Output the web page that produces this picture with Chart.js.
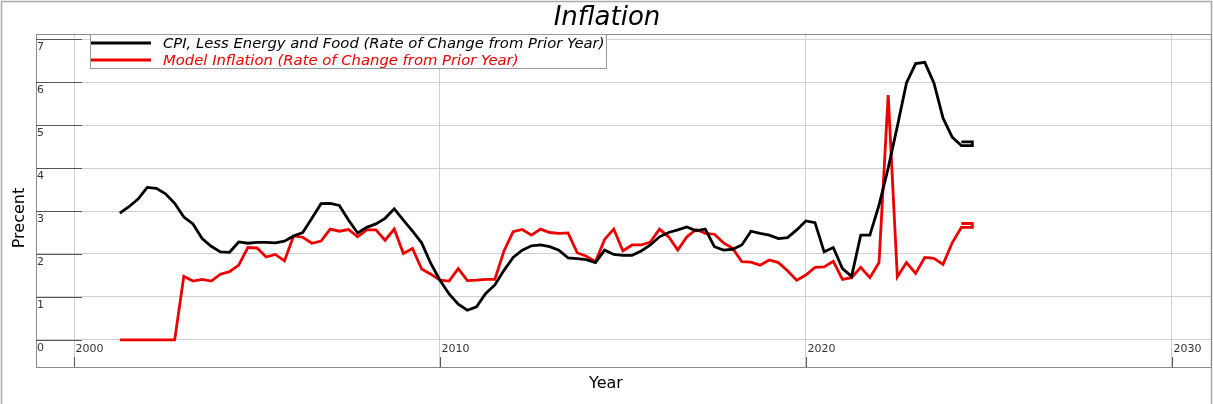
<!DOCTYPE html>
<html><head><meta charset="utf-8">
<script src="https://cdn.jsdelivr.net/npm/chart.js@4"></script>
<style>html,body{margin:0;padding:0;background:#fff}#wrap{width:1213px;height:404px;position:relative}</style>
</head><body><div id="wrap"><canvas id="c"></canvas></div>
<script>
// Quarterly dates (decimal years)
const quarters = [
 2001.25,2001.5,2001.75,2002.0,2002.25,2002.5,2002.75,2003.0,2003.25,2003.5,2003.75,
 2004.0,2004.25,2004.5,2004.75,2005.0,2005.25,2005.5,2005.75,2006.0,2006.25,2006.5,2006.75,
 2007.0,2007.25,2007.5,2007.75,2008.0,2008.25,2008.5,2008.75,2009.0,2009.25,2009.5,2009.75,
 2010.0,2010.25,2010.5,2010.75,2011.0,2011.25,2011.5,2011.75,2012.0,2012.25,2012.5,2012.75,
 2013.0,2013.25,2013.5,2013.75,2014.0,2014.25,2014.5,2014.75,2015.0,2015.25,2015.5,2015.75,
 2016.0,2016.25,2016.5,2016.75,2017.0,2017.25,2017.5,2017.75,2018.0,2018.25,2018.5,2018.75,
 2019.0,2019.25,2019.5,2019.75,2020.0,2020.25,2020.5,2020.75,2021.0,2021.25,2021.5,2021.75,
 2022.0,2022.25,2022.5,2022.75,2023.0,2023.25,2023.5,2023.75,2024.0,2024.25
];
const cpiCore = [
 2.95,3.10,3.28,3.55,3.53,3.40,3.18,2.86,2.70,2.36,2.18,
 2.05,2.04,2.28,2.25,2.27,2.27,2.26,2.30,2.42,2.50,2.83,3.17,
 3.18,3.13,2.79,2.49,2.62,2.70,2.83,3.05,2.79,2.53,2.26,1.78,
 1.39,1.07,0.83,0.69,0.77,1.08,1.28,1.62,1.92,2.09,2.19,2.21,
 2.17,2.09,1.91,1.89,1.87,1.80,2.09,1.99,1.97,1.97,2.07,2.21,
 2.40,2.50,2.56,2.63,2.54,2.58,2.17,2.09,2.11,2.21,2.53,2.48,
 2.44,2.36,2.38,2.56,2.77,2.73,2.05,2.15,1.66,1.48,2.44,2.44,
 3.14,4.00,4.97,5.98,6.43,6.46,5.98,5.16,4.72,4.52
];
const modelInfl = [
 0,0,0,0,0,0,0,1.48,1.37,1.41,1.37,
 1.53,1.59,1.74,2.15,2.14,1.93,1.99,1.84,2.42,2.39,2.25,2.30,
 2.58,2.53,2.57,2.40,2.56,2.56,2.32,2.58,2.01,2.13,1.65,1.53,
 1.39,1.37,1.66,1.38,1.39,1.41,1.41,2.07,2.52,2.57,2.44,2.58,
 2.50,2.48,2.49,2.03,1.95,1.82,2.34,2.58,2.07,2.21,2.21,2.28,
 2.58,2.40,2.09,2.40,2.57,2.48,2.46,2.26,2.13,1.82,1.81,1.74,
 1.86,1.80,1.61,1.39,1.51,1.69,1.70,1.83,1.41,1.45,1.69,1.45,
 1.80,5.70,1.47,1.80,1.55,1.92,1.90,1.76,2.26,2.62
];
// small closing loop drawn at the end of each series
const endX = [2024.55, 2024.55, 2024.25];
const cpiEnd = [4.52, 4.61, 4.61];
const modelEnd = [2.62, 2.71, 2.71];

const seriesNames = ["CPI, Less Energy and Food (Rate of Change from Prior Year)",
                     "Model Inflation (Rate of Change from Prior Year)"];
const seriesColors = ["#000000", "#ec0000"];
const xTicks = [2000, 2010, 2020, 2030];
const yTicks = [0, 1, 2, 3, 4, 5, 6, 7];
const titleText = "Inflation";
const xTitle = "Year";
const yTitle = "Precent";

function pts(vals, tail) {
  const out = quarters.map((q, i) => ({x: q, y: vals[i]}));
  endX.forEach((x, i) => out.push({x: x, y: tail[i]}));
  return out;
}

const FONT = "'DejaVu Sans', sans-serif";

const decor = {
  id: 'decor',
  afterDraw(chart) {
    const ctx = chart.ctx, a = chart.chartArea;
    const xs = chart.scales.x, ys = chart.scales.y;
    ctx.save();
    // outer frame
    ctx.strokeStyle = '#a8a8a8'; ctx.lineWidth = 1.5;
    ctx.beginPath();
    ctx.moveTo(1.5, 404); ctx.lineTo(1.5, 1.5); ctx.lineTo(1211.5, 1.5); ctx.lineTo(1211.5, 404);
    ctx.stroke();
    // plot box
    ctx.strokeStyle = '#8a8a8a'; ctx.lineWidth = 1;
    ctx.strokeRect(a.left + 0.5, a.top + 0.5, a.right - a.left - 1, a.bottom - a.top);
    // y tick marks + labels
    ctx.strokeStyle = '#555'; ctx.lineWidth = 1;
    ctx.fillStyle = '#333'; ctx.font = '11px ' + FONT;
    ctx.textAlign = 'left'; ctx.textBaseline = 'top';
    yTicks.forEach(v => {
      const y = Math.round(ys.getPixelForValue(v)) + 0.5;
      ctx.beginPath(); ctx.moveTo(a.left, y); ctx.lineTo(a.left + 46, y); ctx.stroke();
      ctx.fillText(String(v), a.left + 1, y + 2);
    });
    // x tick marks + labels
    ctx.textBaseline = 'middle';
    xTicks.forEach(v => {
      const x = Math.round(xs.getPixelForValue(v)) + 0.5;
      ctx.beginPath(); ctx.moveTo(x, a.bottom - 10); ctx.lineTo(x, a.bottom); ctx.stroke();
      ctx.fillText(String(v), x + 1, a.bottom - 18);
    });
    // titles
    ctx.fillStyle = '#000';
    ctx.textAlign = 'center'; ctx.textBaseline = 'middle';
    ctx.font = 'italic 26px ' + FONT;
    ctx.fillText(titleText, 607, 18);
    ctx.font = '16px ' + FONT;
    ctx.fillText(xTitle, 606, 384);
    ctx.save();
    ctx.translate(20, 218); ctx.rotate(-Math.PI / 2);
    ctx.fillText(yTitle, 0, 0);
    ctx.restore();
    // legend
    ctx.fillStyle = '#fff';
    ctx.fillRect(90, 34, 516, 34);
    ctx.strokeStyle = '#9a9a9a'; ctx.lineWidth = 1;
    ctx.strokeRect(90.5, 34.5, 516, 34);
    ctx.font = 'italic 14.8px ' + FONT;
    ctx.textAlign = 'left';
    chart.data.datasets.forEach((ds, i) => {
      const y = 43 + i * 17;
      ctx.strokeStyle = ds.borderColor; ctx.lineWidth = 3;
      ctx.beginPath(); ctx.moveTo(91, y); ctx.lineTo(151, y); ctx.stroke();
      ctx.fillStyle = ds.borderColor;
      ctx.fillText(ds.label, 163, y + 1);
    });
    ctx.restore();
  }
};

new Chart(document.getElementById('c'), {
  type: 'line',
  data: {
    datasets: [
      {label: seriesNames[0], data: pts(cpiCore, cpiEnd), borderColor: seriesColors[0],
       borderWidth: 2.8, pointRadius: 0, tension: 0, fill: false},
      {label: seriesNames[1], data: pts(modelInfl, modelEnd), borderColor: seriesColors[1],
       borderWidth: 2.8, pointRadius: 0, tension: 0, fill: false}
    ]
  },
  options: {
    responsive: true, maintainAspectRatio: false, animation: false,
    layout: {padding: {left: 36, top: 34, right: 1, bottom: 37}},
    plugins: {legend: {display: false}, title: {display: false}, tooltip: {enabled: false}},
    scales: {
      x: {type: 'linear', min: 1998.96, max: 2031.1,
          afterBuildTicks: s => { s.ticks = xTicks.map(v => ({value: v})); },
          ticks: {display: false}, border: {display: false},
          grid: {color: '#cfcfcf', lineWidth: 1, drawTicks: false}},
      y: {type: 'linear', min: -0.63, max: 7.12,
          afterBuildTicks: s => { s.ticks = yTicks.map(v => ({value: v})); },
          ticks: {display: false}, border: {display: false},
          grid: {color: '#cfcfcf', lineWidth: 1, drawTicks: false}}
    }
  },
  plugins: [decor]
});
</script></body></html>
